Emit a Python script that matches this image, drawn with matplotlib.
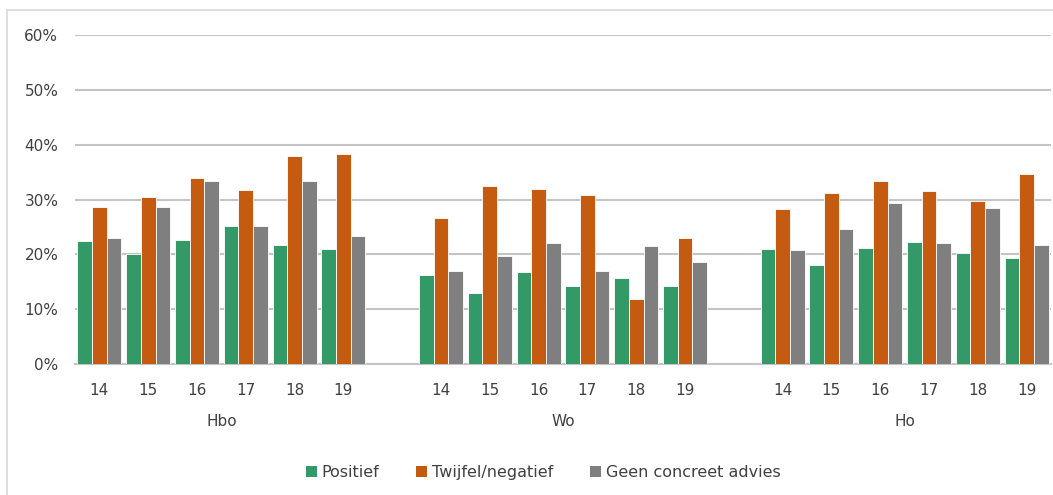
import numpy as np
import matplotlib.pyplot as plt
from matplotlib.patches import Patch
from matplotlib.lines import Line2D
from matplotlib.ticker import PercentFormatter


groups = ['Hbo', 'Wo', 'Ho']
years = ['14', '15', '16', '17', '18', '19']
series = ['Positief', 'Twijfel/negatief', 'Geen concreet advies']

# shares per group, one value per year (14..19)
positief = {
    'Hbo': [22.5, 20.1, 22.7, 25.2, 21.7, 21.0],
    'Wo':  [16.3, 12.9, 16.8, 14.2, 15.7, 14.2],
    'Ho':  [20.9, 18.1, 21.1, 22.3, 20.2, 19.4],
}
twijfel = {
    'Hbo': [28.6, 30.5, 33.9, 31.8, 38.0, 38.3],
    'Wo':  [26.6, 32.4, 31.9, 30.8, 11.9, 23.0],
    'Ho':  [28.2, 31.2, 33.3, 31.5, 29.7, 34.6],
}
geen_advies = {
    'Hbo': [23.0, 28.6, 33.3, 25.2, 33.4, 23.4],
    'Wo':  [17.0, 19.7, 22.0, 17.0, 21.5, 18.6],
    'Ho':  [20.8, 24.6, 29.3, 22.0, 28.4, 21.7],
}

colors = ['#339966', '#C55A11', '#7F7F7F']
text_color = '#404040'
grid_color = '#C4C4C4'

fig = plt.figure(figsize=(10.53, 4.95), dpi=100)
ax = fig.add_axes([75 / 1053, 131 / 495, 976 / 1053, 329 / 495])

# one empty slot between the groups
slot = 7
bw = 0.3
xticks = []
xlabels = []
for g, grp in enumerate(groups):
    x = np.arange(len(years)) + g * slot
    for s, data in enumerate([positief, twijfel, geen_advies]):
        vals = np.array(data[grp]) / 100
        ax.bar(x + (s - 1) * bw, vals, width=bw, color=colors[s],
               edgecolor='white', linewidth=0.6, zorder=3)
    xticks.extend(x)
    xlabels.extend(years)
    ax.text(x.mean(), -0.176, grp, transform=ax.get_xaxis_transform(),
            ha='center', va='center', fontsize=11, color=text_color)

ax.set_xlim(-0.5, 2 * slot + len(years) - 0.5)
ax.set_ylim(0, 0.6)
ax.set_yticks(np.arange(0, 0.61, 0.1))
ax.yaxis.set_major_formatter(PercentFormatter(1.0, decimals=0))
ax.set_xticks(xticks)
ax.set_xticklabels(xlabels)

ax.grid(axis='y', color=grid_color, linewidth=1.5, zorder=0)
for side in ['top', 'right', 'left']:
    ax.spines[side].set_visible(False)
ax.spines['bottom'].set_color(grid_color)
ax.spines['bottom'].set_linewidth(1.5)
ax.tick_params(axis='both', length=0, labelsize=11, labelcolor=text_color)
ax.tick_params(axis='x', pad=14)
ax.tick_params(axis='y', pad=12)

handles = [Patch(facecolor=c, edgecolor='none') for c in colors]
fig.legend(handles, series, loc='center', bbox_to_anchor=(0.516, 0.046),
           ncol=3, frameon=False, fontsize=11.5, labelcolor=text_color,
           handlelength=0.7, handleheight=0.7, handletextpad=0.3,
           columnspacing=2.3)

# light frame around the chart
fig.add_artist(Line2D([7 / 1053, 7 / 1053], [0, 1 - 10 / 495],
                      transform=fig.transFigure, color='#D9D9D9', linewidth=1.2))
fig.add_artist(Line2D([7 / 1053, 1], [1 - 10 / 495, 1 - 10 / 495],
                      transform=fig.transFigure, color='#D9D9D9', linewidth=1.2))

plt.savefig('out.png', dpi=100)
